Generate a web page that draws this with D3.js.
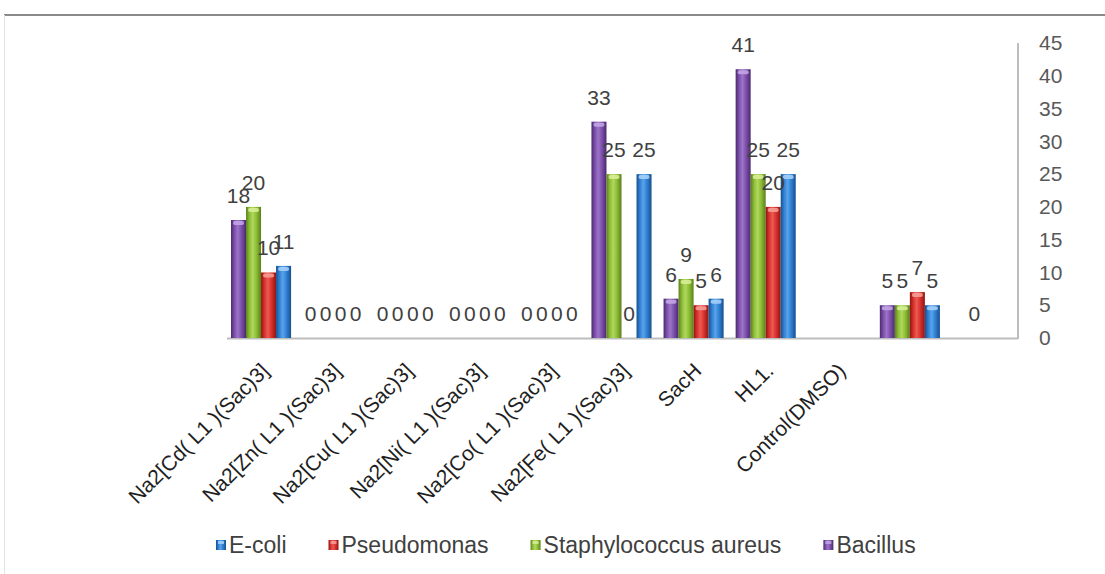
<!DOCTYPE html>
<html>
<head>
<meta charset="utf-8">
<script src="https://cdn.jsdelivr.net/npm/d3@7"></script>
<style>
  html, body { margin: 0; padding: 0; background: #fff; }
  svg { display: block; }
  text { font-family: "Liberation Sans", Arial, sans-serif; }
</style>
</head>
<body>
<svg id="chart" width="1105" height="574"></svg>
<script>
// Compounds on the x axis (the last two slots carry no name)
const categories = [
  "Na2[Cd( L1 )(Sac)3]", "Na2[Zn( L1 )(Sac)3]", "Na2[Cu( L1 )(Sac)3]",
  "Na2[Ni( L1 )(Sac)3]", "Na2[Co( L1 )(Sac)3]", "Na2[Fe( L1 )(Sac)3]",
  "SacH", "HL1.", "Control(DMSO)", "", ""
];

// Inhibition values per organism (null = no value)
const bacillus = [18, 0, 0, 0, 0, 33, 6, 41, null, 5, null];
const staph    = [20, 0, 0, 0, 0, 25, 9, 25, null, 5, 0];
const pseudo   = [10, 0, 0, 0, 0, 0, 5, 20, null, 7, null];
const ecoli    = [11, 0, 0, 0, 0, 25, 6, 25, null, 5, null];

const yTicks = [0, 5, 10, 15, 20, 25, 30, 35, 40, 45];

// Drawing order within a group (left to right)
const seriesNames = ["Bacillus", "Staphylococcus aureus", "Pseudomonas", "E-coli"];
const seriesValues = [bacillus, staph, pseudo, ecoli];
// Legend order
const legendOrder = ["E-coli", "Pseudomonas", "Staphylococcus aureus", "Bacillus"];

const palette = {
  "Bacillus":              { base: "#7b4ea9", light: "#9d74c8", dark: "#4a2a6e", cap: "#c6a9e6" },
  "Staphylococcus aureus": { base: "#8cbc35", light: "#b0d85e", dark: "#5a8019", cap: "#d9f09a" },
  "Pseudomonas":           { base: "#d6302c", light: "#ec5a52", dark: "#8e1512", cap: "#f7a39a" },
  "E-coli":                { base: "#2f7fd2", light: "#5aa3ea", dark: "#164f8e", cap: "#a9d4fb" }
};

const svg = d3.select("#chart");
const plotLeft = 225, plotRight = 1018, plotTop = 43, plotBottom = 338;

// Outer frame
svg.append("line").attr("x1", 4).attr("x2", 1105).attr("y1", 15).attr("y2", 15)
  .attr("stroke", "#8a8a8a").attr("stroke-width", 2);
svg.append("line").attr("x1", 4.5).attr("x2", 4.5).attr("y1", 15).attr("y2", 574)
  .attr("stroke", "#e4e4e4").attr("stroke-width", 1);

const x0 = d3.scaleBand().domain(d3.range(categories.length))
  .range([plotLeft, plotRight]).paddingInner(1 / 6).paddingOuter(1 / 12);
const x1 = d3.scaleBand().domain(seriesNames).range([0, x0.bandwidth()]);
const y = d3.scaleLinear().domain([0, 45]).range([plotBottom, plotTop]);

// Gradients giving the bars their rounded look
const defs = svg.append("defs");
seriesNames.forEach((name, i) => {
  const c = palette[name];
  const g = defs.append("linearGradient").attr("id", "grad" + i)
    .attr("x1", "0%").attr("x2", "100%").attr("y1", "0%").attr("y2", "0%");
  g.append("stop").attr("offset", "0%").attr("stop-color", c.dark);
  g.append("stop").attr("offset", "22%").attr("stop-color", c.base);
  g.append("stop").attr("offset", "45%").attr("stop-color", c.light);
  g.append("stop").attr("offset", "70%").attr("stop-color", c.base);
  g.append("stop").attr("offset", "100%").attr("stop-color", c.dark);
});

// Axes lines
svg.append("line").attr("x1", plotLeft + 2).attr("x2", plotRight).attr("y1", plotBottom + 0.5).attr("y2", plotBottom + 0.5)
  .attr("stroke", "#bdbdbd").attr("stroke-width", 2);
svg.append("line").attr("x1", plotRight).attr("x2", plotRight).attr("y1", plotTop).attr("y2", plotBottom + 1)
  .attr("stroke", "#bdbdbd").attr("stroke-width", 2);

// Right value axis labels
const yAxis = d3.axisRight(y).tickValues(yTicks).tickSize(0).tickPadding(21);
const yG = svg.append("g").attr("transform", `translate(${plotRight},0)`).call(yAxis);
yG.select(".domain").remove();
yG.selectAll("text").attr("font-size", 21).attr("fill", "#595959")
  .attr("font-family", "Liberation Sans, Arial, sans-serif");

// Category axis labels, rotated
const xAxis = d3.axisBottom(x0).tickSize(0).tickFormat(i => categories[i]);
const xG = svg.append("g").attr("transform", `translate(0,${plotBottom})`).call(xAxis);
xG.select(".domain").remove();
xG.selectAll("text")
  .attr("font-size", 21).attr("fill", "#1f1f1f")
  .attr("font-family", "Liberation Sans, Arial, sans-serif")
  .attr("text-anchor", "end")
  .attr("dy", "0.75em")
  .attr("y", 0)
  .attr("transform", "translate(-2,23) rotate(-45)");

// Bars
const rows = [];
categories.forEach((c, ci) => {
  seriesNames.forEach((s, si) => {
    const v = seriesValues[si][ci];
    if (v !== null) rows.push({ ci, s, si, v });
  });
});

const bars = svg.append("g");
bars.selectAll("rect.bar").data(rows.filter(d => d.v > 0)).join("rect")
  .attr("class", "bar")
  .attr("x", d => x0(d.ci) + x1(d.s))
  .attr("y", d => y(d.v))
  .attr("width", x1.bandwidth())
  .attr("height", d => y(0) - y(d.v))
  .attr("fill", d => `url(#grad${d.si})`);

// Light cap on top of each bar
bars.selectAll("rect.cap").data(rows.filter(d => d.v > 0)).join("rect")
  .attr("class", "cap")
  .attr("x", d => x0(d.ci) + x1(d.s) + 2)
  .attr("y", d => y(d.v) + 1)
  .attr("width", x1.bandwidth() - 4)
  .attr("height", 4)
  .attr("rx", 2)
  .attr("fill", d => palette[d.s].cap)
  .attr("opacity", 0.85);

// Value labels above bars
svg.append("g").selectAll("text").data(rows).join("text")
  .attr("x", d => x0(d.ci) + x1(d.s) + x1.bandwidth() / 2)
  .attr("y", d => y(d.v) - 17)
  .attr("text-anchor", "middle")
  .attr("font-size", 21)
  .attr("fill", "#404040")
  .text(d => d.v);

// Legend
const lg = svg.append("g").attr("transform", "translate(216,0)");
let lx = 0;
legendOrder.forEach(name => {
  const c = palette[name];
  const si = seriesNames.indexOf(name);
  lg.append("rect").attr("x", lx).attr("y", 540).attr("width", 10).attr("height", 10)
    .attr("fill", `url(#grad${si})`);
  lg.append("rect").attr("x", lx + 2).attr("y", 541).attr("width", 6).attr("height", 3)
    .attr("fill", c.cap).attr("opacity", 0.8);
  const t = lg.append("text").attr("x", lx + 13).attr("y", 553)
    .attr("font-size", 23).attr("fill", "#404040").text(name);
  lx += 13 + t.node().getComputedTextLength() + 42;
});
</script>
</body>
</html>
